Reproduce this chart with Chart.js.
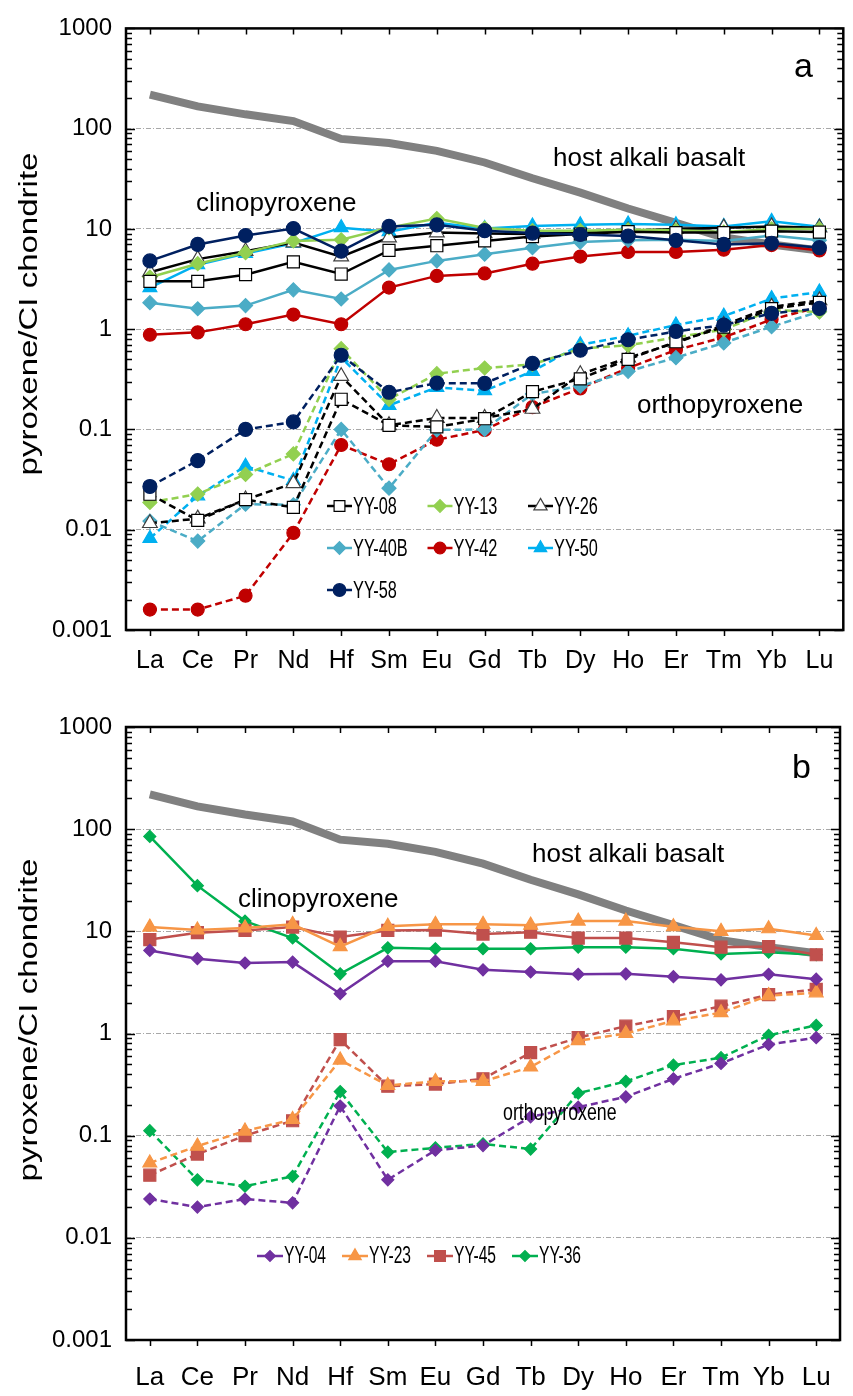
<!DOCTYPE html>
<html>
<head>
<meta charset="utf-8">
<script src="https://cdn.jsdelivr.net/npm/chart.js@4"></script>
<style>
  html, body { margin: 0; padding: 0; background: #fff; }
  .wrap { position: absolute; left: 0; width: 853px; }
  #wrapA { top: 0; height: 695px; }
  #wrapB { top: 695px; height: 701px; }
</style>
</head>
<body>
<div class="wrap" id="wrapA"><canvas id="chartA"></canvas></div>
<div class="wrap" id="wrapB"><canvas id="chartB"></canvas></div>
<script>
// REE + Hf normalised to CI chondrite
const elements = ['La', 'Ce', 'Pr', 'Nd', 'Hf', 'Sm', 'Eu', 'Gd', 'Tb', 'Dy', 'Ho', 'Er', 'Tm', 'Yb', 'Lu'];
const majorTicks = [0.001, 0.01, 0.1, 1, 10, 100, 1000];

const hostBasalt = [219, 167, 139, 119, 79, 72, 60, 46, 32, 23, 16, 11.5, 8.2, 7.0, 6.1];

// panel a - clinopyroxene
const yy08Cpx  = [3.0, 3.0, 3.5, 4.7, 3.55, 6.1, 6.8, 7.6, 8.4, 8.9, 9.4, 9.2, 9.2, 9.5, 9.3];
const yy13Cpx  = [3.3, 4.5, 5.8, 7.6, 7.8, 10.3, 12.7, 10.2, 9.6, 9.6, 9.8, 9.7, 9.3, 10.0, 10.0];
const yy26Cpx  = [3.7, 5.0, 6.0, 7.3, 5.3, 8.2, 9.2, 9.0, 8.9, 9.3, 9.6, 10.0, 10.3, 10.6, 10.3];
const yy40bCpx = [1.84, 1.6, 1.72, 2.47, 2.0, 3.9, 4.8, 5.6, 6.5, 7.4, 7.7, 7.8, 7.6, 8.6, 7.7];
const yy42Cpx  = [0.88, 0.93, 1.12, 1.4, 1.12, 2.6, 3.4, 3.6, 4.5, 5.3, 5.9, 5.9, 6.2, 6.9, 6.1];
const yy50Cpx  = [2.6, 4.4, 5.7, 7.2, 10.3, 9.4, 11.5, 10.1, 10.7, 11.0, 11.2, 11.0, 10.6, 11.9, 10.5];
const yy58Cpx  = [4.8, 7.0, 8.6, 10.1, 6.0, 10.6, 11.0, 9.6, 9.1, 8.8, 8.5, 7.7, 7.0, 7.2, 6.5];

// panel a - orthopyroxene
const yy08Opx  = [0.0226, 0.0124, 0.020, 0.0167, 0.20, 0.11, 0.106, 0.128, 0.238, 0.32, 0.50, 0.75, 1.05, 1.6, 1.85];
const yy13Opx  = [0.0187, 0.0227, 0.0356, 0.057, 0.64, 0.20, 0.36, 0.41, 0.445, 0.64, 0.69, 0.83, 0.99, 1.55, 1.49];
const yy26Opx  = [0.0116, 0.0129, 0.020, 0.029, 0.34, 0.11, 0.13, 0.13, 0.16, 0.355, 0.52, 0.73, 1.1, 1.67, 1.94];
const yy40bOpx = [0.0122, 0.0077, 0.018, 0.0177, 0.10, 0.026, 0.099, 0.10, 0.226, 0.27, 0.38, 0.52, 0.73, 1.06, 1.5];
const yy42Opx  = [0.0016, 0.0016, 0.0022, 0.0093, 0.070, 0.045, 0.079, 0.099, 0.167, 0.257, 0.41, 0.62, 0.83, 1.25, 1.67];
const yy50Opx  = [0.0082, 0.0218, 0.043, 0.031, 0.52, 0.174, 0.263, 0.244, 0.38, 0.70, 0.86, 1.10, 1.35, 2.02, 2.35];
const yy58Opx  = [0.027, 0.049, 0.1, 0.119, 0.55, 0.235, 0.29, 0.288, 0.456, 0.617, 0.785, 0.95, 1.10, 1.44, 1.61];

// panel b - clinopyroxene
const yy04Cpx = [6.5, 5.4, 4.9, 5.0, 2.45, 5.1, 5.1, 4.2, 4.0, 3.8, 3.84, 3.6, 3.35, 3.8, 3.4];
const yy23Cpx = [11.0, 10.3, 10.8, 11.7, 7.1, 11.2, 11.7, 11.7, 11.5, 12.6, 12.6, 11.1, 10.0, 10.6, 9.1];
const yy45Cpx = [8.3, 9.7, 10.2, 11.0, 8.8, 10.2, 10.3, 9.4, 9.8, 8.6, 8.6, 7.8, 7.0, 7.1, 5.9];
const yy36Cpx = [85, 28, 12.6, 8.6, 3.84, 6.9, 6.75, 6.75, 6.75, 7.0, 7.0, 6.75, 6.0, 6.25, 5.9];

// panel b - orthopyroxene
const yy04Opx = [0.024, 0.020, 0.024, 0.022, 0.195, 0.037, 0.072, 0.08, 0.153, 0.19, 0.24, 0.36, 0.51, 0.78, 0.91];
const yy23Opx = [0.054, 0.079, 0.111, 0.144, 0.55, 0.31, 0.34, 0.34, 0.47, 0.85, 1.0, 1.33, 1.6, 2.35, 2.5];
const yy45Opx = [0.041, 0.066, 0.10, 0.14, 0.87, 0.305, 0.32, 0.36, 0.65, 0.91, 1.18, 1.46, 1.85, 2.4, 2.7];
const yy36Opx = [0.112, 0.037, 0.032, 0.040, 0.27, 0.069, 0.076, 0.083, 0.074, 0.26, 0.34, 0.49, 0.58, 0.96, 1.2];

// legend order of each panel
const legendA = ['YY-08', 'YY-13', 'YY-26', 'YY-40B', 'YY-42', 'YY-50', 'YY-58'];
const legendB = ['YY-04', 'YY-23', 'YY-45', 'YY-36'];

const FONT = '"Liberation Sans", Arial, sans-serif';

// marker styles
const st = {
  yy08:  { line: '#000000', fill: '#ffffff', edge: '#000000', shape: 'rect',    r: 8.5 },
  yy13:  { line: '#92D050', fill: '#92D050', edge: '#92D050', shape: 'rectRot', r: 7 },
  yy26:  { line: '#000000', fill: '#ffffff', edge: '#404040', shape: 'triangle', r: 8.5 },
  yy40b: { line: '#4BACC6', fill: '#4BACC6', edge: '#4BACC6', shape: 'rectRot', r: 7 },
  yy42:  { line: '#C00000', fill: '#C00000', edge: '#C00000', shape: 'circle',  r: 6.5 },
  yy50:  { line: '#00B0F0', fill: '#00B0F0', edge: '#00B0F0', shape: 'triangle', r: 8 },
  yy58:  { line: '#002060', fill: '#002060', edge: '#002060', shape: 'circle',  r: 7 },
  yy04:  { line: '#7030A0', fill: '#7030A0', edge: '#7030A0', shape: 'rectRot', r: 6 },
  yy23:  { line: '#F79646', fill: '#F79646', edge: '#F79646', shape: 'triangle', r: 8 },
  yy45:  { line: '#C0504D', fill: '#C0504D', edge: '#C0504D', shape: 'rect',    r: 8.5 },
  yy36:  { line: '#00B050', fill: '#00B050', edge: '#00B050', shape: 'rectRot', r: 6 }
};

function series(label, data, s, dashed, inLegend) {
  return {
    label, data, inLegend,
    borderColor: s.line,
    backgroundColor: s.fill,
    pointBackgroundColor: s.fill,
    pointBorderColor: s.edge,
    pointBorderWidth: 1.2,
    pointStyle: s.shape,
    pointRadius: s.r,
    borderWidth: 2.5,
    borderDash: dashed ? [7, 4] : [],
    tension: 0,
    fill: false
  };
}

function host() {
  return { label: 'host alkali basalt', data: hostBasalt, borderColor: '#808080', borderWidth: 8,
    pointRadius: 0, tension: 0, fill: false, inLegend: false };
}

function logTicks() {
  const out = [];
  for (let i = 0; i < majorTicks.length - 1; i++) {
    for (let m = 1; m <= 9; m++) out.push({ value: +(majorTicks[i] * m).toPrecision(6) });
  }
  out.push({ value: majorTicks[majorTicks.length - 1] });
  return out;
}

function drawText(ctx, t) {
  ctx.save();
  ctx.font = `${t.size}px ${FONT}`;
  ctx.fillStyle = '#000';
  ctx.textAlign = t.align || 'left';
  ctx.textBaseline = t.base || 'alphabetic';
  ctx.translate(t.x, t.y);
  if (t.rot) ctx.rotate(t.rot);
  ctx.scale(t.sx || 1, t.sy || 1);
  ctx.fillText(t.text, 0, 0);
  ctx.restore();
}

// frame, inside ticks, notes, y title and the legend
const panelDeco = {
  id: 'panelDeco',
  afterDraw(chart, args, opts) {
    const ctx = chart.ctx;
    const { left, right, top, bottom } = chart.chartArea;
    const ys = chart.scales.y, xs = chart.scales.x;
    ctx.save();
    ctx.strokeStyle = '#000';
    ctx.lineWidth = 1.5;
    ys.ticks.forEach(t => {
      const y = Math.round(ys.getPixelForValue(t.value)) + 0.5;
      const len = majorTicks.includes(t.value) ? 9 : 6;
      ctx.beginPath();
      ctx.moveTo(left, y); ctx.lineTo(left + len, y);
      ctx.moveTo(right, y); ctx.lineTo(right - len, y);
      ctx.stroke();
    });
    elements.forEach((_, i) => {
      const x = Math.round(xs.getPixelForTick(i)) + 0.5;
      ctx.beginPath();
      ctx.moveTo(x, top); ctx.lineTo(x, top + 6);
      ctx.moveTo(x, bottom); ctx.lineTo(x, bottom + 6);
      ctx.stroke();
    });
    ctx.lineWidth = 2.5;
    ctx.strokeRect(left, top, right - left, bottom - top);
    ctx.restore();

    (opts.notes || []).forEach(n => drawText(ctx, n));
    drawText(ctx, { text: 'pyroxene/CI chondrite', x: 30, y: opts.titleY, size: 33, sy: 0.8,
      rot: -Math.PI / 2, align: 'center', base: 'middle' });

    const lg = opts.legend;
    const items = chart.data.datasets.filter(d => d.inLegend)
      .sort((a, b) => lg.order.indexOf(a.label) - lg.order.indexOf(b.label));
    items.forEach((d, i) => {
      const x = lg.x + (i % lg.cols) * lg.colW;
      const y = lg.y + Math.floor(i / lg.cols) * lg.rowH;
      ctx.save();
      ctx.strokeStyle = d.borderColor;
      ctx.lineWidth = 2.5;
      ctx.beginPath(); ctx.moveTo(x, y); ctx.lineTo(x + lg.seg, y); ctx.stroke();
      ctx.fillStyle = d.pointBackgroundColor;
      ctx.strokeStyle = d.pointBorderColor;
      ctx.lineWidth = 1.2;
      Chart.helpers.drawPoint(ctx, { pointStyle: d.pointStyle, radius: d.pointRadius * lg.ps,
        rotation: 0, borderWidth: 1.2 }, x + lg.seg / 2, y);
      ctx.restore();
      drawText(ctx, { text: d.label, x: x + lg.seg + 1, y: y + 1, size: lg.size, sx: lg.sx, base: 'middle' });
    });
  }
};

function makeChart(id, datasets, cfg) {
  return new Chart(document.getElementById(id), {
    type: 'line',
    data: { labels: elements, datasets },
    options: {
      responsive: true,
      maintainAspectRatio: false,
      animation: false,
      layout: { padding: { top: cfg.top, right: 2, left: 0, bottom: 0 } },
      plugins: {
        legend: { display: false },
        tooltip: { enabled: false },
        panelDeco: cfg.deco
      },
      scales: {
        x: {
          type: 'category',
          offset: true,
          grid: { display: false, drawTicks: false },
          border: { display: false },
          ticks: { color: '#000', font: { family: FONT, size: cfg.xFont }, padding: cfg.xPad,
            maxRotation: 0, autoSkip: false },
          afterFit: s => { s.height = cfg.xH; }
        },
        y: {
          type: 'logarithmic',
          min: 0.001,
          max: 1000,
          afterBuildTicks: s => { s.ticks = logTicks(); },
          grid: {
            color: c => majorTicks.includes(c.tick.value) ? '#a8a8a8' : 'rgba(0,0,0,0)',
            lineWidth: 1,
            drawTicks: false
          },
          border: { display: false, dash: [5, 2, 1, 2] },
          ticks: {
            autoSkip: false,
            color: '#000',
            font: { family: FONT, size: 24 },
            padding: 14,
            callback: v => majorTicks.includes(v) ? String(v) : ''
          },
          afterFit: s => { s.width = 126; }
        }
      }
    },
    plugins: [panelDeco]
  });
}

// later datasets are drawn underneath, so the host basalt goes last
makeChart('chartA', [
  series('YY-58', yy58Cpx, st.yy58, false, true),
  series('YY-08', yy08Cpx, st.yy08, false, true),
  series('YY-13', yy13Cpx, st.yy13, false, true),
  series('YY-26', yy26Cpx, st.yy26, false, true),
  series('YY-40B', yy40bCpx, st.yy40b, false, true),
  series('YY-42', yy42Cpx, st.yy42, false, true),
  series('YY-50', yy50Cpx, st.yy50, false, true),
  series('YY-58', yy58Opx, st.yy58, true, false),
  series('YY-08', yy08Opx, st.yy08, true, false),
  series('YY-13', yy13Opx, st.yy13, true, false),
  series('YY-26', yy26Opx, st.yy26, true, false),
  series('YY-40B', yy40bOpx, st.yy40b, true, false),
  series('YY-42', yy42Opx, st.yy42, true, false),
  series('YY-50', yy50Opx, st.yy50, true, false),
  host()
], {
  top: 22, xH: 65, xPad: 16, xFont: 25,
  deco: {
    titleY: 314,
    notes: [
      { text: 'a', x: 794, y: 77, size: 34 },
      { text: 'host alkali basalt', x: 553, y: 166, size: 26 },
      { text: 'clinopyroxene', x: 196, y: 211, size: 26 },
      { text: 'orthopyroxene', x: 637, y: 413, size: 26 }
    ],
    legend: { order: legendA, x: 327, y: 506, cols: 3, colW: 100.5, rowH: 42, seg: 25, size: 24, sx: 0.68, ps: 0.9 }
  }
});

makeChart('chartB', [
  series('YY-04', yy04Cpx, st.yy04, false, true),
  series('YY-23', yy23Cpx, st.yy23, false, true),
  series('YY-45', yy45Cpx, st.yy45, false, true),
  series('YY-36', yy36Cpx, st.yy36, false, true),
  series('YY-04', yy04Opx, st.yy04, true, false),
  series('YY-23', yy23Opx, st.yy23, true, false),
  series('YY-45', yy45Opx, st.yy45, true, false),
  series('YY-36', yy36Opx, st.yy36, true, false),
  host()
], {
  top: 32, xH: 56, xPad: 22, xFont: 26,
  deco: {
    titleY: 325,
    notes: [
      { text: 'b', x: 792, y: 83, size: 34 },
      { text: 'host alkali basalt', x: 532, y: 167, size: 26 },
      { text: 'clinopyroxene', x: 238, y: 212, size: 26 },
      { text: 'orthopyroxene', x: 503, y: 425, size: 24, sx: 0.74 }
    ],
    legend: { order: legendB, x: 257, y: 561, cols: 4, colW: 85, rowH: 40, seg: 26, size: 23, sx: 0.68, ps: 0.9 }
  }
});
</script>
</body>
</html>
